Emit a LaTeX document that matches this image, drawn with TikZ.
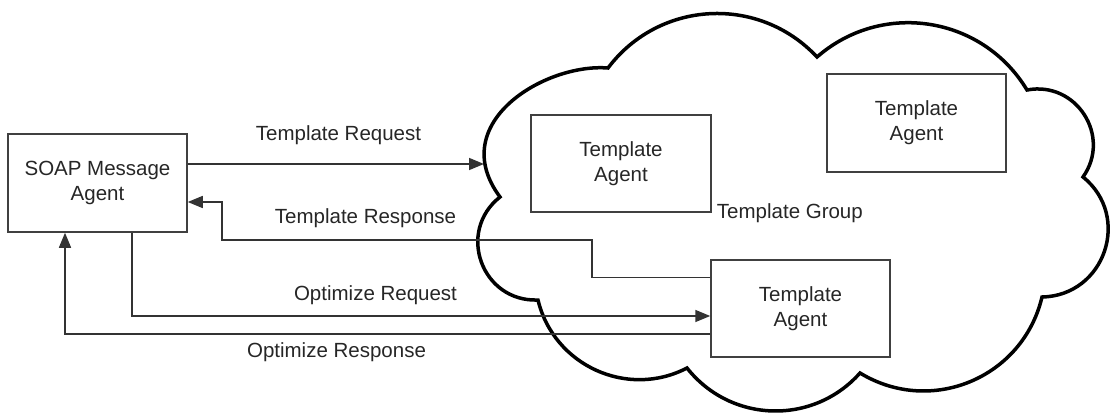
\documentclass[tikz,border=0pt]{standalone}
\usepackage{fontspec}
\setmainfont{Liberation Sans}
\usetikzlibrary{arrows.meta}

\begin{document}
\begin{tikzpicture}[x = 1pt, y = 1pt, font = \fontsize{20.5}{25}\selectfont]
	\tikzstyle{agentStyle}=[shape = rectangle, draw = black!75, line width = 1.5pt, align = center, text = black!85, inner sep = 0pt]
	\tikzstyle{lineStyle}=[draw = black!80, line width = 1.5pt]
	\tikzstyle{tipStyle}=[-{Triangle[length = 15pt, width = 12pt]}]
	\tikzstyle{labelStyle}=[text = black!85, inner sep = 0pt]
	\tikzstyle{cloudStyle}=[draw = black, line width = 3.5pt, line join = miter]
	\useasboundingbox (0,0) rectangle (1113,413);
	% template group cloud, one bump per segment
	\draw[cloudStyle] (608,345)
		to[bend left = 50, looseness = 1.04] (817,356)
		to[bend left = 50, looseness = 1.04] (1027,323)
		to[bend left = 68, looseness = 1.24] (1083,236)
		to[bend left = 70, looseness = 1.27] (1042,116)
		to[bend left = 54, looseness = 1.08] (860,40)
		to[bend left = 50, looseness = 1.04] (687,45)
		to[bend left = 52, looseness = 1.05] (538,113)
		to[bend left = 72, looseness = 1.31] (500,216)
		.. controls (445,290) and (545,350) .. (608,345) -- cycle;
	\coordinate (groupEdge) at (484,249);
	% agents
	\node[agentStyle, minimum width = 179pt, minimum height = 98pt] (soapAgent) at (97.5,230) {SOAP Message\\Agent};
	\node[agentStyle, minimum width = 180pt, minimum height = 97pt] (tmpA) at (621,249.5) {Template\\Agent};
	\node[agentStyle, minimum width = 179pt, minimum height = 98pt] (tmpB) at (916.5,290) {Template\\Agent};
	\node[agentStyle, minimum width = 179pt, minimum height = 97pt] (tmpC) at (800.5,104.5) {Template\\Agent};
	\node[labelStyle, anchor = west] (groupLabel) at ([xshift = 5pt]tmpA.south east) {Template Group};
	% messages
	\draw[lineStyle, tipStyle] (soapAgent.east |- groupEdge) -- (groupEdge);
	\draw[lineStyle, tipStyle] ([yshift = -18pt]tmpC.north west) -| (592,173) -| (222,211) -- (soapAgent.east |- 0,211);
	\draw[lineStyle, tipStyle] (soapAgent.south -| 132,0) |- (tmpC.west |- 0,97);
	\draw[lineStyle, tipStyle] (tmpC.west |- 0,79) -| (soapAgent.south -| 65,0);
	\node[labelStyle] (reqLabel) at (338.5,278) {Template Request};
	\node[labelStyle] (respLabel) at (365.5,195) {Template Response};
	\node[labelStyle] (optReqLabel) at (375.5,118) {Optimize Request};
	\node[labelStyle] (optRespLabel) at (336.5,61) {Optimize Response};
\end{tikzpicture}
\end{document}
